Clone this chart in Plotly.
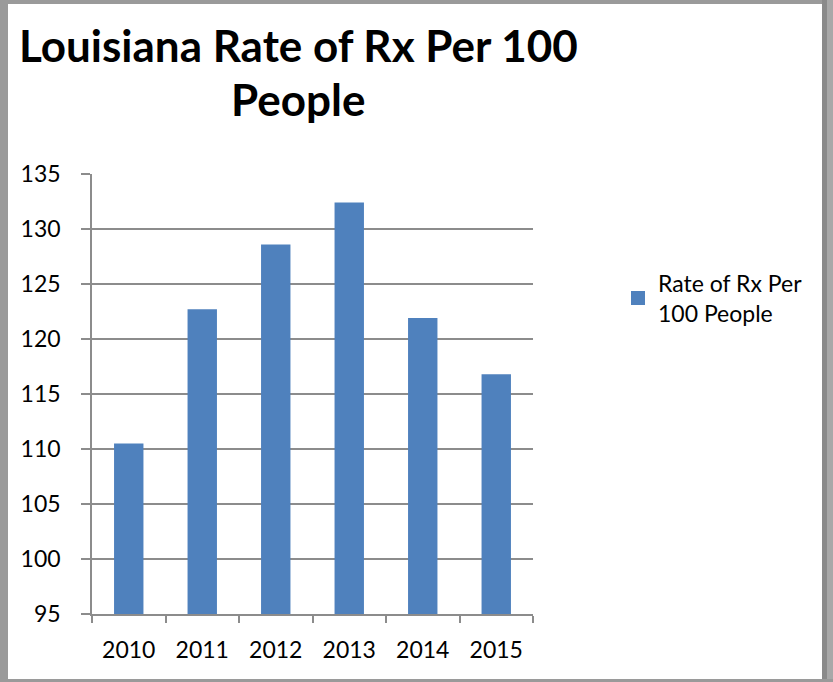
import plotly.graph_objects as go

years = ["2010", "2011", "2012", "2013", "2014", "2015"]
rates = [110.5, 122.7, 128.6, 132.4, 121.9, 116.8]
series_name = "Rate of Rx Per<br>100 People"
title_lines = ["Louisiana Rate of Rx Per 100", "People"]
y_ticks = [95, 100, 105, 110, 115, 120, 125, 130, 135]

W, H = 833, 682
L, R, T, B = 92, 300, 174, 68
PW = W - L - R
PH = H - T - B

def px(x):
    return (x - L) / PW

def py(y):
    return (H - B - y) / PH

BLUE = "#4F81BD"
GRID = "#8C8C8C"
FONT = "Lato"

fig = go.Figure()
fig.add_trace(go.Bar(
    x=years, y=rates, name=series_name,
    marker=dict(color=BLUE, line=dict(width=0)),
    showlegend=False, legendgroup="s",
))
# legend entry (larger square swatch like the reference)
fig.add_trace(go.Scatter(
    x=[None], y=[None], mode="markers", name=series_name, legendgroup="s",
    marker=dict(symbol="square", size=14, color=BLUE), showlegend=True,
))

shapes = [
    dict(type="rect", xref="paper", yref="paper", x0=px(0), x1=px(8), y0=py(682), y1=py(0),
         fillcolor="#9a9a9a", line=dict(width=0), layer="above"),
    dict(type="rect", xref="paper", yref="paper", x0=px(0), x1=px(833), y0=py(4), y1=py(0),
         fillcolor="#9a9a9a", line=dict(width=0), layer="above"),
    dict(type="rect", xref="paper", yref="paper", x0=px(822), x1=px(827), y0=py(682), y1=py(0),
         fillcolor="#8a8a8a", line=dict(width=0), layer="above"),
    dict(type="rect", xref="paper", yref="paper", x0=px(827), x1=px(833), y0=py(682), y1=py(0),
         fillcolor="#a8a8a8", line=dict(width=0), layer="above"),
    dict(type="rect", xref="paper", yref="paper", x0=px(0), x1=px(833), y0=py(682), y1=py(679),
         fillcolor="#9a9a9a", line=dict(width=0), layer="above"),
]

fig.update_layout(
    width=W, height=H,
    margin=dict(l=L, r=R, t=T, b=B, autoexpand=False),
    paper_bgcolor="white", plot_bgcolor="white",
    font=dict(family=FONT, size=23, color="black"),
    bargap=0.6,
    showlegend=True,
    legend=dict(x=px(618), y=py(298), xanchor="left", yanchor="middle",
                font=dict(family=FONT, size=23, color="black"),
                bgcolor="rgba(0,0,0,0)", tracegroupgap=0),
    xaxis=dict(showgrid=False, showline=True, linecolor=GRID, linewidth=1.5,
               ticks="outside", tickson="boundaries", ticklen=7, tickcolor=GRID, tickwidth=1.5,
               tickfont=dict(family=FONT, size=23, color="black"), ticklabelstandoff=15,
               fixedrange=True),
    yaxis=dict(range=[95, 135], tickvals=y_ticks, showgrid=True, gridcolor=GRID, gridwidth=1.5,
               showline=True, linecolor=GRID, linewidth=1.5, zeroline=False,
               ticks="outside", ticklen=9, tickcolor=GRID, tickwidth=1.5,
               tickfont=dict(family=FONT, size=23, color="black"), ticklabelstandoff=16,
               fixedrange=True),
    shapes=shapes,
    annotations=[
        dict(text="<b>" + title_lines[0] + "</b>", xref="paper", yref="paper",
             x=px(298), y=py(45), xanchor="center", yanchor="middle", showarrow=False,
             font=dict(family=FONT, size=44, color="black")),
        dict(text="<b>" + title_lines[1] + "</b>", xref="paper", yref="paper",
             x=px(298), y=py(99), xanchor="center", yanchor="middle", showarrow=False,
             font=dict(family=FONT, size=44, color="black")),
    ],
)

fig.write_html("out.html", config={"displayModeBar": False},
               post_script="document.body.style.margin='0';document.body.style.overflow='hidden';")
